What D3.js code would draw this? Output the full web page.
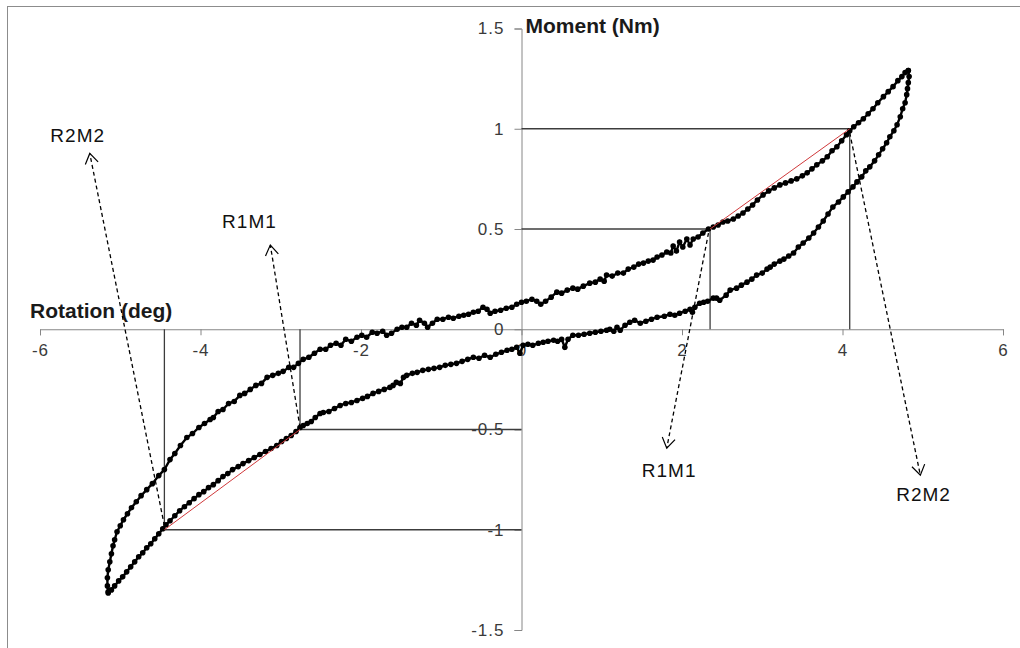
<!DOCTYPE html>
<html>
<head>
<meta charset="utf-8">
<script src="https://cdn.jsdelivr.net/npm/d3@7"></script>
<style>
  body { margin: 0; background: #fff; }
  svg text { font-family: "Liberation Sans", Arial, sans-serif; }
</style>
</head>
<body>
<svg id="chart" width="1020" height="648"></svg>
<script>
// loop: [rotation (deg), moment (Nm)]
var loadingBranch = [
  [-5.15,-1.31],[-5.16,-1.28],[-5.16,-1.24],[-5.15,-1.20],[-5.13,-1.16],[-5.11,-1.12],[-5.09,-1.08],
  [-5.07,-1.05],[-5.04,-1.01],[-5.00,-0.98],[-4.96,-0.95],[-4.91,-0.92],[-4.86,-0.89],[-4.80,-0.86],
  [-4.74,-0.83],[-4.67,-0.80],[-4.60,-0.77],[-4.52,-0.73],[-4.45,-0.70],[-4.38,-0.65],[-4.32,-0.62],
  [-4.25,-0.58],[-4.17,-0.54],[-4.10,-0.52],[-4.02,-0.49],[-3.95,-0.47],[-3.88,-0.45],[-3.84,-0.44],
  [-3.78,-0.41],[-3.72,-0.40],[-3.65,-0.37],[-3.58,-0.36],[-3.51,-0.33],[-3.45,-0.32],[-3.38,-0.30],
  [-3.31,-0.28],[-3.24,-0.27],[-3.17,-0.24],[-3.10,-0.23],[-3.03,-0.22],[-2.97,-0.21],[-2.90,-0.19],
  [-2.84,-0.19],[-2.78,-0.17],[-2.72,-0.15],[-2.65,-0.14],[-2.58,-0.12],[-2.51,-0.10],[-2.44,-0.10],
  [-2.38,-0.08],[-2.31,-0.07],[-2.25,-0.08],[-2.19,-0.05],[-2.12,-0.06],[-2.05,-0.04],[-1.99,-0.03],
  [-1.93,-0.04],[-1.86,-0.015],[-1.80,-0.02],[-1.73,-0.01],[-1.68,-0.03],[-1.62,-0.02],[-1.55,0.00],
  [-1.49,0.01],[-1.43,0.01],[-1.37,0.03],[-1.31,0.02],[-1.27,0.045],[-1.21,0.03],[-1.17,0.01],
  [-1.11,0.03],[-1.05,0.05],[-0.98,0.05],[-0.91,0.06],[-0.85,0.055],[-0.78,0.065],[-0.72,0.07],
  [-0.66,0.075],[-0.60,0.085],[-0.54,0.09],[-0.48,0.11],[-0.43,0.10],[-0.39,0.08],[-0.33,0.09],
  [-0.26,0.095],[-0.19,0.105],[-0.12,0.11],[-0.06,0.125],[0.00,0.135],[0.06,0.14],[0.13,0.15],
  [0.19,0.14],[0.24,0.125],[0.30,0.14],[0.37,0.16],[0.44,0.185],[0.50,0.18],[0.57,0.195],[0.64,0.205],
  [0.70,0.20],[0.77,0.215],[0.85,0.23],[0.92,0.235],[0.98,0.25],[1.03,0.24],[1.06,0.27],[1.13,0.265],
  [1.20,0.28],[1.27,0.28],[1.33,0.30],[1.40,0.31],[1.46,0.325],[1.52,0.33],[1.58,0.34],[1.64,0.345],
  [1.69,0.36],[1.75,0.37],[1.81,0.385],[1.86,0.38],[1.89,0.415],[1.93,0.39],[1.97,0.435],[2.01,0.41],
  [2.06,0.45],[2.10,0.42],[2.14,0.45],[2.20,0.46],[2.26,0.48],[2.33,0.50],[2.39,0.51],[2.45,0.52],
  [2.51,0.535],[2.57,0.54],[2.64,0.55],[2.70,0.565],[2.76,0.58],[2.82,0.60],[2.88,0.62],[2.94,0.645],
  [3.01,0.67],[3.08,0.69],[3.15,0.705],[3.22,0.72],[3.29,0.73],[3.36,0.74],[3.43,0.75],[3.50,0.765],
  [3.56,0.78],[3.62,0.80],[3.68,0.82],[3.75,0.84],[3.81,0.86],[3.87,0.89],[3.93,0.91],[3.99,0.94],
  [4.05,0.97],[4.09,0.99],[4.14,1.01],[4.20,1.03],[4.26,1.05],[4.32,1.075],[4.38,1.10],[4.44,1.13],
  [4.51,1.16],[4.57,1.185],[4.63,1.21],[4.69,1.24],[4.74,1.26],[4.78,1.28],[4.82,1.29]
];

var unloadingBranch = [
  [4.82,1.29],[4.83,1.26],[4.82,1.23],[4.81,1.20],[4.80,1.17],[4.78,1.13],[4.75,1.10],[4.72,1.06],
  [4.68,1.02],[4.64,0.99],[4.59,0.96],[4.55,0.93],[4.50,0.90],[4.45,0.87],[4.40,0.84],[4.34,0.81],
  [4.29,0.79],[4.24,0.76],[4.18,0.735],[4.13,0.71],[4.07,0.685],[4.01,0.66],[3.95,0.635],[3.88,0.61],
  [3.82,0.575],[3.76,0.54],[3.70,0.51],[3.64,0.48],[3.58,0.455],[3.51,0.43],[3.45,0.41],[3.39,0.38],
  [3.33,0.365],[3.27,0.35],[3.22,0.34],[3.15,0.325],[3.10,0.31],[3.06,0.30],[3.00,0.28],[2.93,0.27],
  [2.87,0.25],[2.81,0.235],[2.74,0.22],[2.68,0.205],[2.60,0.195],[2.55,0.17],[2.47,0.145],[2.43,0.155],
  [2.39,0.155],[2.32,0.14],[2.27,0.135],[2.22,0.13],[2.16,0.11],[2.13,0.085],[2.10,0.10],[2.04,0.09],
  [1.97,0.08],[1.91,0.07],[1.85,0.075],[1.78,0.065],[1.69,0.06],[1.62,0.05],[1.55,0.04],[1.48,0.03],
  [1.41,0.045],[1.35,0.035],[1.29,0.02],[1.23,-0.005],[1.19,0.01],[1.15,-0.01],[1.10,0.00],[1.06,-0.005],
  [0.99,-0.01],[0.92,-0.015],[0.85,-0.02],[0.78,-0.025],[0.71,-0.03],[0.64,-0.03],[0.58,-0.05],
  [0.54,-0.09],[0.50,-0.05],[0.45,-0.06],[0.40,-0.055],[0.33,-0.06],[0.27,-0.065],[0.21,-0.07],
  [0.14,-0.08],[0.08,-0.075],[0.02,-0.08],[-0.02,-0.12],[-0.06,-0.09],[-0.12,-0.10],[-0.18,-0.105],
  [-0.25,-0.115],[-0.32,-0.125],[-0.39,-0.14],[-0.46,-0.13],[-0.53,-0.145],[-0.60,-0.14],[-0.67,-0.15],
  [-0.74,-0.16],[-0.81,-0.17],[-0.88,-0.175],[-0.95,-0.18],[-1.02,-0.19],[-1.09,-0.195],[-1.16,-0.20],
  [-1.23,-0.205],[-1.30,-0.215],[-1.36,-0.22],[-1.43,-0.23],[-1.47,-0.24],[-1.51,-0.27],[-1.56,-0.265],
  [-1.60,-0.28],[-1.64,-0.29],[-1.71,-0.30],[-1.78,-0.31],[-1.85,-0.32],[-1.92,-0.335],[-1.98,-0.345],
  [-2.05,-0.355],[-2.12,-0.365],[-2.19,-0.37],[-2.26,-0.38],[-2.33,-0.395],[-2.40,-0.41],[-2.47,-0.415],
  [-2.51,-0.42],[-2.57,-0.44],[-2.62,-0.46],[-2.67,-0.47],[-2.72,-0.48],[-2.76,-0.49],[-2.81,-0.51],
  [-2.87,-0.53],[-2.93,-0.545],[-2.99,-0.56],[-3.05,-0.58],[-3.12,-0.595],[-3.19,-0.61],[-3.26,-0.625],
  [-3.33,-0.64],[-3.40,-0.655],[-3.47,-0.67],[-3.53,-0.685],[-3.60,-0.70],[-3.66,-0.72],[-3.72,-0.735],
  [-3.78,-0.755],[-3.84,-0.775],[-3.90,-0.79],[-3.96,-0.81],[-4.02,-0.825],[-4.08,-0.845],[-4.14,-0.865],
  [-4.20,-0.885],[-4.26,-0.905],[-4.32,-0.93],[-4.38,-0.955],[-4.43,-0.975],[-4.47,-0.995],[-4.52,-1.02],
  [-4.57,-1.045],[-4.62,-1.07],[-4.67,-1.09],[-4.72,-1.115],[-4.77,-1.135],[-4.82,-1.16],[-4.87,-1.185],
  [-4.92,-1.21],[-4.97,-1.235],[-5.02,-1.255],[-5.07,-1.28],[-5.11,-1.30],[-5.15,-1.315]
];

// R/M reference points on both sides
var refPoints = [
  {name: "R1M1", r: 2.35, m: 0.5},
  {name: "R2M2", r: 4.09, m: 1.0},
  {name: "R1M1", r: -2.76, m: -0.5},
  {name: "R2M2", r: -4.45, m: -1.0}
];
var secants = [[0, 1], [3, 2]];

// dashed callouts: from [r,m] to arrow head [r,m], label at [r,m]
var callouts = [
  {text: "R2M2", from: [-4.45, -0.98], to: [-5.38, 0.877], label: [-5.53, 0.932]},
  {text: "R1M1", from: [-2.76, -0.49], to: [-3.13, 0.42], label: [-3.39, 0.503]},
  {text: "R1M1", from: [2.33, 0.48], to: [1.81, -0.593], label: [1.84, -0.738]},
  {text: "R2M2", from: [4.09, 0.98], to: [4.97, -0.728], label: [5.01, -0.857]}
];

var xTicks = [-6, -4, -2, 0, 2, 4, 6];
var yTicks = [-1.5, -1, -0.5, 0, 0.5, 1, 1.5];

var svg = d3.select("#chart");

var x = d3.scaleLinear().domain([-6, 6]).range([40, 1003]);
var y = d3.scaleLinear().domain([-1.5, 1.5]).range([630, 28.5]);

svg.append("rect")
    .attr("x", 7.5).attr("y", 6.5)
    .attr("width", 1030).attr("height", 660)
    .attr("fill", "none").attr("stroke", "#8c8c8c");

// plain hyphen minus, like the original
var plain = function(d) { return String(d); };
var xAxis = d3.axisBottom(x).tickValues(xTicks).tickSize(6).tickFormat(plain);
var yAxis = d3.axisLeft(y).tickValues(yTicks).tickSize(7).tickFormat(plain);

var gx = svg.append("g")
    .attr("transform", "translate(0," + y(0) + ")")
    .call(xAxis);
var gy = svg.append("g")
    .attr("transform", "translate(" + x(0) + ",0)")
    .call(yAxis);

[gx, gy].forEach(function(g) {
  g.selectAll("path, line").attr("stroke", "#868686");
  g.selectAll("text")
      .attr("fill", "#3a3a3a")
      .style("font-size", "17px")
      .style("letter-spacing", "1px");
});
gx.selectAll("text").attr("dy", "1.05em").attr("y", 9);
gy.selectAll("text").attr("x", -17);

svg.append("text")
    .attr("x", x(0) + 4).attr("y", 33)
    .attr("font-weight", "bold").attr("font-size", 21)
    .attr("fill", "#1a1a1a")
    .text("Moment (Nm)");

svg.append("text")
    .attr("x", 30).attr("y", 318)
    .attr("font-weight", "bold").attr("font-size", 21)
    .attr("fill", "#1a1a1a")
    .text("Rotation (deg)");

// reference lines to the axes
var refs = svg.append("g").attr("stroke", "#3c3c3c").attr("stroke-width", 1.3);
refPoints.forEach(function(p) {
  refs.append("line")
      .attr("x1", x(0)).attr("y1", y(p.m))
      .attr("x2", x(p.r)).attr("y2", y(p.m));
  refs.append("line")
      .attr("x1", x(p.r)).attr("y1", y(0))
      .attr("x2", x(p.r)).attr("y2", y(p.m));
});

// loop
var line = d3.line().x(function(d) { return x(d[0]); }).y(function(d) { return y(d[1]); });
[loadingBranch, unloadingBranch].forEach(function(branch) {
  svg.append("path")
      .datum(branch)
      .attr("d", line)
      .attr("fill", "none")
      .attr("stroke", "#000")
      .attr("stroke-width", 2.4);
  svg.append("g").selectAll("circle")
      .data(branch)
      .enter().append("circle")
      .attr("cx", function(d) { return x(d[0]); })
      .attr("cy", function(d) { return y(d[1]); })
      .attr("r", 2.8)
      .attr("fill", "#000");
});

// red secants
secants.forEach(function(s) {
  var a = refPoints[s[0]], b = refPoints[s[1]];
  svg.append("line")
      .attr("x1", x(a.r)).attr("y1", y(a.m))
      .attr("x2", x(b.r)).attr("y2", y(b.m))
      .attr("stroke", "#d0393b").attr("stroke-width", 1);
});

// callouts
svg.append("defs").append("marker")
    .attr("id", "openHead")
    .attr("markerUnits", "userSpaceOnUse")
    .attr("viewBox", "-12 -8 14 16")
    .attr("markerWidth", 14).attr("markerHeight", 16)
    .attr("refX", 0).attr("refY", 0)
    .attr("orient", "auto")
    .append("path")
    .attr("d", "M-10,-6.5L0,0L-10,6.5")
    .attr("fill", "none").attr("stroke", "#000").attr("stroke-width", 1.2);

callouts.forEach(function(c) {
  svg.append("line")
      .attr("x1", x(c.from[0])).attr("y1", y(c.from[1]))
      .attr("x2", x(c.to[0])).attr("y2", y(c.to[1]))
      .attr("stroke", "#000").attr("stroke-width", 1.3)
      .attr("stroke-dasharray", "4,3")
      .attr("marker-end", "url(#openHead)");
  svg.append("text")
      .attr("x", x(c.label[0])).attr("y", y(c.label[1]))
      .attr("text-anchor", "middle")
      .attr("font-size", 19)
      .style("letter-spacing", "1px")
      .attr("fill", "#111")
      .text(c.text);
});
</script>
</body>
</html>
